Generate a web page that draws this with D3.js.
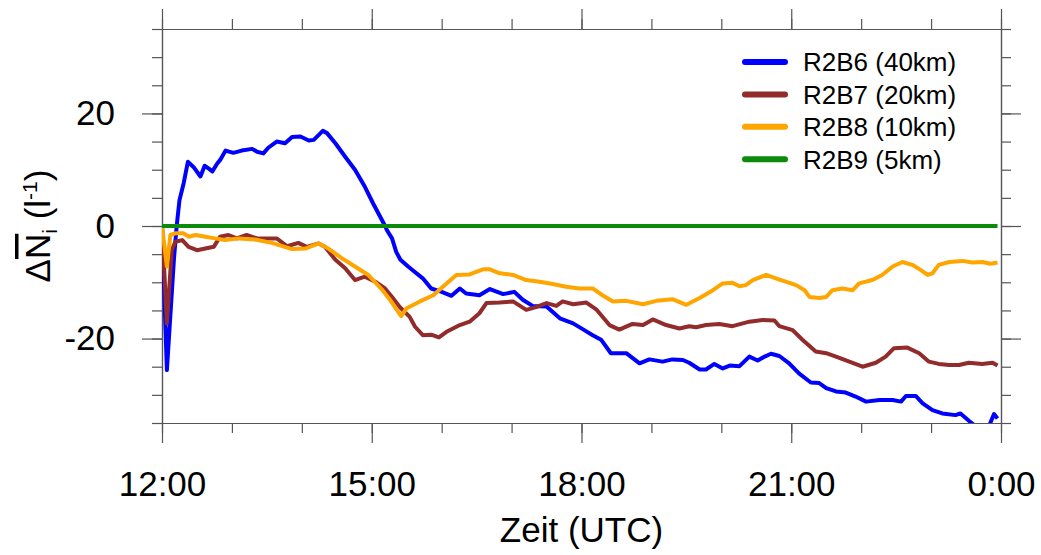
<!DOCTYPE html>
<meta charset="utf-8">
<style>
  body { margin: 0; background: #fff; }
  svg { display: block; }
</style>
<svg width="1041" height="555" font-family="'Liberation Sans', Arial, sans-serif"></svg>
<script src="https://d3js.org/d3.v7.min.js"></script>
<script>

// hours after 12:00 UTC
var r2b6Hours = [0, 0.07, 0.17, 0.21, 0.25, 0.31, 0.37, 0.45, 0.55, 0.61, 0.67, 0.72, 0.79, 0.83, 0.91, 1.02, 1.14, 1.29, 1.36, 1.45, 1.52, 1.64, 1.76, 1.86, 1.98, 2.10, 2.17, 2.30, 2.36, 2.48, 2.62, 2.76, 2.90, 3.02, 3.17, 3.22, 3.29, 3.35, 3.41, 3.52, 3.59, 3.73, 3.85, 4.00, 4.14, 4.26, 4.35, 4.54, 4.69, 4.88, 5.04, 5.16, 5.30, 5.50, 5.69, 5.88, 6.04, 6.16, 6.28, 6.42, 6.64, 6.83, 6.97, 7.16, 7.30, 7.45, 7.54, 7.69, 7.78, 7.90, 8.02, 8.12, 8.26, 8.40, 8.52, 8.62, 8.71, 8.83, 8.97, 9.11, 9.28, 9.40, 9.50, 9.64, 9.78, 9.92, 10.07, 10.26, 10.45, 10.57, 10.64, 10.78, 10.88, 11.02, 11.16, 11.35, 11.42, 11.54, 11.61, 11.70, 11.80, 11.84, 11.90, 11.95];
var r2b6 = [0, -25.6, -6, 0, 4.6, 7.6, 11.4, 10.5, 8.8, 10.7, 10.2, 9.7, 11.1, 11.7, 13.4, 13.0, 13.4, 13.7, 13.2, 12.9, 13.9, 15.0, 14.7, 15.8, 15.9, 15.2, 15.3, 16.9, 16.5, 14.7, 12.3, 10, 7, 4, 0.5, -0.8, -2.2, -4.6, -6.0, -7.2, -7.9, -9.3, -11.1, -11.7, -12.4, -11.1, -12.0, -12.3, -11.2, -12.1, -11.7, -13.1, -14.2, -14.3, -16.4, -17.3, -18.5, -19.4, -20.2, -22.6, -22.6, -24.4, -23.7, -24.1, -23.7, -23.8, -24.3, -25.5, -25.5, -24.5, -25.3, -24.8, -24.9, -23.2, -23.9, -23.2, -22.7, -23.1, -24.4, -26.2, -27.8, -27.9, -28.8, -29.4, -29.6, -30.3, -31.2, -30.9, -30.9, -31.2, -30.2, -30.2, -31.5, -32.7, -33.3, -33.6, -33.3, -34.6, -35.3, -36.5, -36.0, -35.2, -33.4, -34.2];

var r2b7Hours = [0, 0.07, 0.14, 0.19, 0.29, 0.38, 0.50, 0.62, 0.74, 0.83, 0.95, 1.07, 1.21, 1.36, 1.50, 1.64, 1.79, 1.95, 2.07, 2.24, 2.33, 2.48, 2.62, 2.76, 2.90, 3.05, 3.19, 3.29, 3.40, 3.54, 3.62, 3.73, 3.85, 3.96, 4.07, 4.26, 4.40, 4.54, 4.64, 4.83, 5.02, 5.21, 5.35, 5.50, 5.64, 5.73, 5.88, 6.07, 6.21, 6.40, 6.54, 6.73, 6.88, 7.02, 7.21, 7.40, 7.54, 7.64, 7.78, 7.97, 8.16, 8.40, 8.59, 8.76, 8.83, 9.02, 9.16, 9.35, 9.50, 9.64, 9.83, 10.02, 10.21, 10.35, 10.47, 10.66, 10.83, 10.97, 11.11, 11.26, 11.40, 11.54, 11.73, 11.88, 11.95];
var r2b7 = [0, -17.3, -4.3, -2.8, -2.5, -3.7, -4.3, -4.0, -3.7, -1.9, -1.6, -2.2, -1.6, -2.2, -2.2, -2.2, -3.6, -3.0, -3.7, -3.1, -3.7, -6.0, -7.5, -9.6, -9.0, -9.9, -11.1, -12.6, -14.4, -16.1, -17.9, -19.4, -19.3, -19.8, -18.8, -17.6, -17.0, -15.5, -13.7, -13.6, -13.4, -14.9, -14.4, -13.7, -14.2, -13.4, -13.9, -13.6, -14.8, -17.6, -18.4, -17.4, -17.6, -16.6, -17.6, -18.2, -17.8, -18.0, -17.6, -17.4, -17.8, -17.0, -16.7, -16.8, -17.8, -18.5, -20.2, -22.3, -22.6, -23.2, -24.1, -25.0, -24.3, -23.2, -21.7, -21.6, -22.6, -24.1, -24.5, -24.7, -24.7, -24.3, -24.5, -24.3, -24.8];

var r2b8Hours = [0, 0.07, 0.12, 0.19, 0.31, 0.38, 0.48, 0.62, 0.76, 0.90, 1.10, 1.33, 1.57, 1.86, 2.05, 2.24, 2.38, 2.57, 2.76, 2.95, 3.14, 3.26, 3.42, 3.50, 3.69, 3.88, 4.07, 4.21, 4.40, 4.59, 4.69, 4.83, 5.02, 5.21, 5.40, 5.59, 5.78, 5.97, 6.16, 6.30, 6.45, 6.64, 6.88, 7.07, 7.30, 7.50, 7.69, 7.88, 8.02, 8.16, 8.26, 8.35, 8.45, 8.64, 8.78, 8.92, 9.07, 9.19, 9.26, 9.40, 9.50, 9.59, 9.73, 9.88, 9.97, 10.16, 10.30, 10.45, 10.59, 10.73, 10.85, 10.95, 11.02, 11.11, 11.26, 11.45, 11.59, 11.73, 11.85, 11.95];
var r2b8 = [0, -7.2, -1.6, -1.3, -1.3, -1.9, -1.6, -1.9, -2.2, -2.5, -2.2, -2.4, -3.0, -4.1, -4.0, -3.1, -4.0, -5.7, -7.2, -8.7, -11.2, -13.1, -16.0, -14.6, -13.4, -12.3, -10.2, -8.7, -8.6, -7.7, -7.7, -8.4, -8.7, -9.6, -9.9, -10.3, -10.8, -11.1, -11.1, -12.3, -13.4, -13.3, -13.9, -13.3, -13.0, -14.0, -12.8, -11.4, -10.2, -10.1, -10.7, -10.5, -9.6, -8.7, -9.3, -9.9, -10.5, -11.4, -12.6, -12.8, -12.6, -11.4, -11.1, -11.4, -10.2, -9.6, -8.7, -7.2, -6.4, -6.9, -7.8, -8.7, -8.4, -6.9, -6.4, -6.2, -6.5, -6.4, -6.7, -6.5];

var r2b9Hours = [0, 11.95];
var r2b9 = [0, 0];

var seriesNames = ["R2B6 (40km)", "R2B7 (20km)", "R2B8 (10km)", "R2B9 (5km)"];
var seriesColors = ["#0000ff", "#922b2b", "#ffa500", "#0b8a0b"];

var xTickHours = [0, 3, 6, 9, 12];
var xTickLabels = ["12:00", "15:00", "18:00", "21:00", "0:00"];
var yMajorTicks = [-20, 0, 20];

var svg = d3.select("svg");
var plotLeft = 162, plotRight = 1001, plotTop = 29, plotBottom = 423;

var x = d3.scaleLinear().domain([0, 12]).range([plotLeft, plotRight]);
var y = d3.scaleLinear().domain([-35, 35]).range([plotBottom, plotTop]);

var xMinor = d3.range(0, 13, 1);
var yMinor = d3.range(-35, 36, 5);
var axisColor = "#555";

function styleAxis(g) {
  g.attr("color", axisColor).attr("font-family", null).attr("font-size", null);
  g.selectAll("line").attr("stroke-width", 1.2);
  g.select(".domain").attr("stroke-width", 1.2);
  g.selectAll("text").attr("fill", "#000").attr("font-size", 35);
}

// minor ticks on all four sides
svg.append("g").attr("transform", "translate(0," + plotBottom + ")")
    .call(d3.axisBottom(x).tickValues(xMinor).tickSize(10).tickSizeOuter(0).tickFormat(""))
    .call(styleAxis);
svg.append("g").attr("transform", "translate(0," + plotTop + ")")
    .call(d3.axisTop(x).tickValues(xMinor).tickSize(10).tickSizeOuter(0).tickFormat(""))
    .call(styleAxis);
svg.append("g").attr("transform", "translate(" + plotLeft + ",0)")
    .call(d3.axisLeft(y).tickValues(yMinor).tickSize(10).tickSizeOuter(0).tickFormat(""))
    .call(styleAxis);
svg.append("g").attr("transform", "translate(" + plotRight + ",0)")
    .call(d3.axisRight(y).tickValues(yMinor).tickSize(10).tickSizeOuter(0).tickFormat(""))
    .call(styleAxis);

// major ticks + labels
svg.append("g").attr("transform", "translate(0," + plotBottom + ")")
    .call(d3.axisBottom(x).tickValues(xTickHours).tickSize(20).tickSizeOuter(0).tickPadding(28)
      .tickFormat(function(d, i) { return xTickLabels[i]; }))
    .call(styleAxis);
svg.append("g").attr("transform", "translate(0," + plotTop + ")")
    .call(d3.axisTop(x).tickValues(xTickHours).tickSize(20).tickSizeOuter(0).tickFormat(""))
    .call(styleAxis);
svg.append("g").attr("transform", "translate(" + plotLeft + ",0)")
    .call(d3.axisLeft(y).tickValues(yMajorTicks).tickSize(20).tickSizeOuter(0).tickPadding(27)
      .tickFormat(function(d) { return String(d); }))
    .call(styleAxis);
svg.append("g").attr("transform", "translate(" + plotRight + ",0)")
    .call(d3.axisRight(y).tickValues(yMajorTicks).tickSize(20).tickSizeOuter(0).tickFormat(""))
    .call(styleAxis);

svg.append("clipPath").attr("id", "plot")
  .append("rect").attr("x", plotLeft).attr("y", plotTop)
    .attr("width", plotRight - plotLeft).attr("height", plotBottom - plotTop);

var line = d3.line()
    .x(function(d) { return x(d[0]); })
    .y(function(d) { return y(d[1]); });

var series = [
  d3.zip(r2b6Hours, r2b6),
  d3.zip(r2b7Hours, r2b7),
  d3.zip(r2b8Hours, r2b8),
  d3.zip(r2b9Hours, r2b9)
];

svg.append("g").attr("clip-path", "url(#plot)")
  .selectAll("path")
  .data(series)
  .enter().append("path")
    .attr("d", line)
    .attr("fill", "none")
    .attr("stroke", function(d, i) { return seriesColors[i]; })
    .attr("stroke-width", 4)
    .attr("stroke-linejoin", "round");

// legend
var legend = svg.append("g").selectAll("g")
  .data(seriesNames)
  .enter().append("g")
    .attr("transform", function(d, i) { return "translate(745," + (62 + i * 32.4) + ")"; });

legend.append("line")
    .attr("x1", 0).attr("x2", 40)
    .attr("stroke", function(d, i) { return seriesColors[i]; })
    .attr("stroke-width", 6)
    .attr("stroke-linecap", "round");

legend.append("text")
    .attr("x", 58)
    .attr("dy", "0.36em")
    .attr("font-size", 26)
    .text(function(d) { return d; });

// axis titles
svg.append("text")
    .attr("x", (plotLeft + plotRight) / 2)
    .attr("y", 542)
    .attr("text-anchor", "middle")
    .attr("font-size", 35)
    .text("Zeit (UTC)");

var ytitle = svg.append("text")
    .attr("transform", "translate(50,226) rotate(-90)")
    .attr("text-anchor", "middle")
    .attr("font-size", 35);
ytitle.append("tspan").text("Δ");
ytitle.append("tspan").style("text-decoration", "overline").text("N");
ytitle.append("tspan").attr("font-size", 21).attr("dy", 7).text("i");
ytitle.append("tspan").attr("dy", -7).text(" (l");
ytitle.append("tspan").attr("font-size", 21).attr("dy", -13).text("-1");
ytitle.append("tspan").attr("dy", 13).text(")");

</script>
